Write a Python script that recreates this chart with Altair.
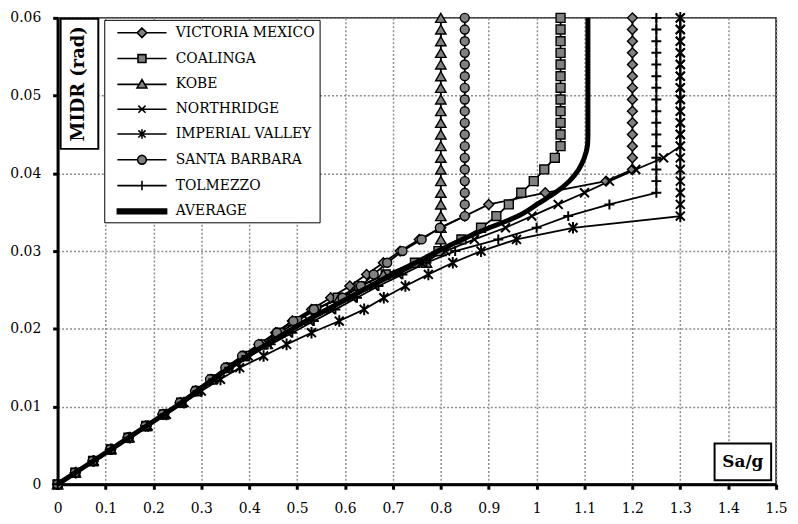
import altair as alt
import pandas as pd

series_names = ["VICTORIA MEXICO", "COALINGA", "KOBE", "NORTHRIDGE",
                "IMPERIAL VALLEY", "SANTA BARBARA", "TOLMEZZO", "AVERAGE"]

x_ticks = [0, 0.1, 0.2, 0.3, 0.4, 0.5, 0.6, 0.7, 0.8, 0.9, 1.0, 1.1, 1.2, 1.3, 1.4, 1.5]
y_ticks = [0, 0.01, 0.02, 0.03, 0.04, 0.05, 0.06]

midr = [0.0, 0.0015, 0.003, 0.0045, 0.006, 0.0075, 0.009, 0.0105, 0.012, 0.0135,
        0.015, 0.0165, 0.018, 0.0195, 0.021, 0.0225, 0.024, 0.0255, 0.027, 0.0285,
        0.03, 0.0315, 0.033, 0.0345, 0.036, 0.0375, 0.039, 0.0405, 0.042, 0.0435,
        0.045, 0.0465, 0.048, 0.0495, 0.051, 0.0525, 0.054, 0.0555, 0.057, 0.0585, 0.06]

sa_victoria = [0, 0.037, 0.074, 0.110, 0.147, 0.184, 0.220, 0.256, 0.288, 0.320,
               0.353, 0.387, 0.420, 0.455, 0.490, 0.530, 0.570, 0.610, 0.645, 0.680,
               0.715, 0.755, 0.800, 0.850, 0.900, 1.018, 1.145, 1.2, 1.2, 1.2,
               1.2, 1.2, 1.2, 1.2, 1.2, 1.2, 1.2, 1.2, 1.2, 1.2, 1.2]
sa_coalinga = [0, 0.037, 0.074, 0.111, 0.148, 0.185, 0.222, 0.258, 0.291, 0.323,
               0.356, 0.391, 0.430, 0.465, 0.500, 0.540, 0.585, 0.630, 0.685, 0.746,
               0.795, 0.843, 0.884, 0.916, 0.942, 0.968, 0.994, 1.016, 1.038, 1.05,
               1.05, 1.05, 1.05, 1.05, 1.05, 1.05, 1.05, 1.05, 1.05, 1.05, 1.05]
sa_kobe = [0, 0.037, 0.074, 0.111, 0.148, 0.185, 0.221, 0.257, 0.289, 0.321,
           0.354, 0.388, 0.425, 0.458, 0.490, 0.540, 0.588, 0.635, 0.680, 0.770,
           0.8, 0.8, 0.8, 0.8, 0.8, 0.8, 0.8, 0.8, 0.8, 0.8,
           0.8, 0.8, 0.8, 0.8, 0.8, 0.8, 0.8, 0.8, 0.8, 0.8, 0.8]
sa_northridge = [0, 0.037, 0.075, 0.112, 0.149, 0.186, 0.223, 0.260, 0.293, 0.326,
                 0.360, 0.398, 0.440, 0.480, 0.525, 0.570, 0.615, 0.660, 0.710, 0.760,
                 0.810, 0.870, 0.935, 0.990, 1.045, 1.100, 1.152, 1.207, 1.265, 1.3,
                 1.3, 1.3, 1.3, 1.3, 1.3, 1.3, 1.3, 1.3, 1.3, 1.3, 1.3]
sa_imperial = [0, 0.038, 0.076, 0.113, 0.151, 0.189, 0.227, 0.264, 0.300, 0.340,
               0.380, 0.430, 0.478, 0.530, 0.588, 0.640, 0.681, 0.726, 0.774, 0.825,
               0.884, 0.958, 1.076, 1.3, 1.3, 1.3, 1.3, 1.3, 1.3, 1.3,
               1.3, 1.3, 1.3, 1.3, 1.3, 1.3, 1.3, 1.3, 1.3, 1.3, 1.3]
sa_santa_barbara = [0, 0.036, 0.073, 0.110, 0.146, 0.183, 0.219, 0.255, 0.287, 0.318,
                    0.350, 0.385, 0.420, 0.458, 0.492, 0.535, 0.595, 0.633, 0.660, 0.688,
                    0.720, 0.760, 0.798, 0.85, 0.85, 0.85, 0.85, 0.85, 0.85, 0.85,
                    0.85, 0.85, 0.85, 0.85, 0.85, 0.85, 0.85, 0.85, 0.85, 0.85, 0.85]
sa_tolmezzo = [0, 0.037, 0.075, 0.112, 0.149, 0.186, 0.223, 0.259, 0.292, 0.325,
               0.358, 0.394, 0.445, 0.490, 0.535, 0.580, 0.625, 0.670, 0.720, 0.770,
               0.830, 0.920, 1.000, 1.066, 1.152, 1.25, 1.25, 1.25, 1.25, 1.25,
               1.25, 1.25, 1.25, 1.25, 1.25, 1.25, 1.25, 1.25, 1.25, 1.25, 1.25]
sa_average = [0, 0.037, 0.0744, 0.1113, 0.1483, 0.1854, 0.2221, 0.2584, 0.2914, 0.3247,
              0.3587, 0.3961, 0.4369, 0.4766, 0.5171, 0.5621, 0.6084, 0.652, 0.6963, 0.7484,
              0.7934, 0.8437, 0.899, 0.9674, 0.9984, 1.0409, 1.0701, 1.089, 1.1004, 1.1071,
              1.1071, 1.1071, 1.1071, 1.1071, 1.1071, 1.1071, 1.1071, 1.1071, 1.1071, 1.1071, 1.1071]

all_sa = [sa_victoria, sa_coalinga, sa_kobe, sa_northridge, sa_imperial,
          sa_santa_barbara, sa_tolmezzo, sa_average]

y_title = "MIDR (rad)"
x_title = "Sa/g"

rows = []
for name, vals in zip(series_names, all_sa):
    for k, (m, s) in enumerate(zip(midr, vals)):
        rows.append({"series": name, "k": k, "midr": m, "sa": s})
df = pd.DataFrame(rows)

FONT = "DejaVu Serif"

x_enc = alt.X("sa:Q", scale=alt.Scale(domain=[0, 1.5], nice=False),
              axis=alt.Axis(values=x_ticks, format="~g", title=None, labelPadding=12,
                            labelFlush=False))
y_enc = alt.Y("midr:Q", scale=alt.Scale(domain=[0, 0.06], nice=False),
              axis=alt.Axis(values=y_ticks, format="~g", title=None, labelPadding=12,
                            labelFlush=False))

base = alt.Chart(df)

lines = base.transform_filter(alt.datum.series != "AVERAGE").mark_line(
    color="black", strokeWidth=1.8, clip=False
).encode(x=x_enc, y=y_enc, detail="series:N", order="k:Q")

GREY = "#808080"
marker_specs = {
    "VICTORIA MEXICO": dict(shape="diamond", size=100, filled=True, fill=GREY, strokeWidth=1.4),
    "COALINGA": dict(shape="square", size=81, filled=True, fill=GREY, strokeWidth=1.4),
    "KOBE": dict(shape="triangle-up", size=110, filled=True, fill=GREY, strokeWidth=1.4),
    "NORTHRIDGE": dict(shape="M-1,-1L1,1M-1,1L1,-1", size=81, filled=False, strokeWidth=2),
    "IMPERIAL VALLEY": dict(shape="M-1,-1L1,1M-1,1L1,-1M0,-1.3L0,1.3", size=81, filled=False, strokeWidth=2),
    "SANTA BARBARA": dict(shape="circle", size=81, filled=True, fill=GREY, strokeWidth=1.4),
    "TOLMEZZO": dict(shape="M-1,0L1,0M0,-1L0,1", size=100, filled=False, strokeWidth=2),
}

layers = []
for name in series_names[:-1]:
    spec = marker_specs[name]
    layers.append(
        base.transform_filter(alt.datum.series == name).mark_point(
            stroke="black", opacity=1, clip=False, **spec
        ).encode(x=x_enc, y=y_enc)
    )

avg_line = base.transform_filter(alt.datum.series == "AVERAGE").mark_line(
    color="black", strokeWidth=5, interpolate="basis", clip=False
).encode(x=x_enc, y=y_enc, order="k:Q")

legend_shapes = [
    "M-3.1,0H-0.6M0.6,0H3.1M0,-0.6L0.6,0L0,0.6L-0.6,0Z",
    "M-3.1,0H-0.5M0.5,0H3.1M-0.5,-0.5H0.5V0.5H-0.5Z",
    "M-3.1,0H-0.34M0.34,0H3.1M0,-0.6L0.62,0.45L-0.62,0.45Z",
    "M-3.1,0H3.1M-0.45,-0.45L0.45,0.45M-0.45,0.45L0.45,-0.45",
    "M-3.1,0H3.1M-0.45,-0.45L0.45,0.45M-0.45,0.45L0.45,-0.45M0,-0.6V0.6",
    "M-3.1,0H-0.55M0.55,0H3.1M0.55,0A0.55,0.55 0 1,1 -0.55,0A0.55,0.55 0 1,1 0.55,0Z",
    "M-3.1,0H3.1M0,-0.6V0.6",
    "M-3.1,-0.3H3.1V0.3H-3.1Z",
]
legend_fills = [GREY, GREY, GREY, "transparent", "transparent", GREY, "transparent", "black"]
legend_strokes = ["black"] * 8

leg = alt.Legend(title=None, orient="none", legendX=47, legendY=2, padding=4,
                 strokeColor="black", fillColor="white", symbolSize=256,
                 symbolStrokeWidth=1.6, symbolOffset=25,
                 labelOffset=25, rowPadding=9, labelFont=FONT, labelFontSize=14,
                 labelColor="black", labelLimit=400)

legend_layer = base.transform_filter(alt.datum.k == 0).mark_point(
    size=0, opacity=1, strokeWidth=1.6
).encode(
    x=x_enc, y=y_enc,
    shape=alt.Shape("series:N", scale=alt.Scale(domain=series_names, range=legend_shapes), legend=leg),
    fill=alt.Fill("series:N", scale=alt.Scale(domain=series_names, range=legend_fills), legend=leg),
    stroke=alt.Stroke("series:N", scale=alt.Scale(domain=series_names, range=legend_strokes), legend=leg),
)

note = alt.Chart(alt.Data(values=[{}]))
y_box = note.mark_rect(fill="white", stroke="black", strokeWidth=2).encode(
    x=alt.value(3), x2=alt.value(41), y=alt.value(1), y2=alt.value(132))
y_text = note.mark_text(text=y_title, angle=270, font=FONT, fontWeight="bold",
                        fontSize=18, color="black", baseline="middle", align="center").encode(
    x=alt.value(22), y=alt.value(66.5))
x_box = note.mark_rect(fill="white", stroke="black", strokeWidth=2).encode(
    x=alt.value(662), x2=alt.value(719), y=alt.value(429), y2=alt.value(466))
x_text = note.mark_text(text=x_title, font=FONT, fontWeight="bold", fontSize=17,
                        color="black", baseline="middle", align="center").encode(
    x=alt.value(690.5), y=alt.value(448))

chart = alt.layer(lines, *layers, avg_line, legend_layer, y_box, y_text, x_box, x_text).properties(
    width=724, height=470,
    autosize=alt.AutoSizeParams(type="none"),
    padding={"left": 50, "top": 8, "right": 14, "bottom": 30},
).configure_axis(
    domainColor="black", domainWidth=3, tickColor="black", tickWidth=3, tickSize=5,
    labelFont=FONT, labelFontSize=14, labelColor="black",
    grid=True, gridColor="#8c8c8c", gridDash=[2, 2], gridWidth=1.5,
).configure_view(stroke="black", strokeWidth=1.5)

chart.save("out.html", embed_options={"renderer": "svg", "actions": False})
